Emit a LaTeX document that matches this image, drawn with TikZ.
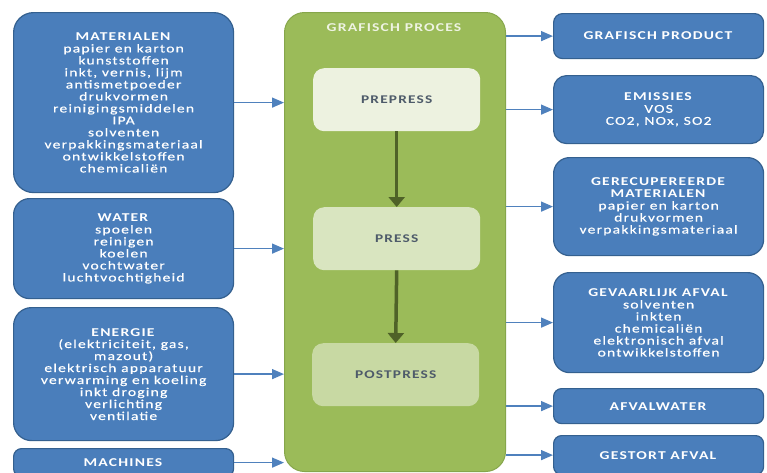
\documentclass[tikz,border=0pt]{standalone}
\usepackage{fontspec}
\setmainfont{Carlito}[FakeStretch=1.3, LetterSpace=10, UprightFeatures={FakeBold=0.4}]
\usetikzlibrary{arrows.meta}
\definecolor{bfill}{HTML}{4A7EBB}
\definecolor{bdraw}{HTML}{34608F}
\definecolor{barr}{HTML}{4F81BD}
\definecolor{gfill}{HTML}{9BBB59}
\definecolor{gdraw}{HTML}{86A64B}
\definecolor{pre}{HTML}{EDF2E0}
\definecolor{prs}{HTML}{D9E5C0}
\definecolor{post}{HTML}{C8D9A3}
\definecolor{itext}{HTML}{4E5B6A}
\definecolor{ttext}{HTML}{EEF3E2}
\definecolor{darr}{HTML}{4F6228}
\tikzset{
  bluebox/.style={draw=bdraw, line width=1.2pt, fill=bfill, text=white, align=center,
    anchor=north west, inner sep=0pt, rounded corners=#1,
    font=\fontsize{12}{12}\selectfont},
  bluebox/.default=15pt,
  stagebox/.style={fill=#1, text=itext, anchor=north west, inner sep=0pt,
    rounded corners=11pt, minimum width=167pt, minimum height=63pt,
    font=\fontsize{11.8}{12}\selectfont\bfseries},
  barrow/.style={draw=barr, line width=1.4pt, -{Triangle[length=12pt,width=10pt]}},
  garrow/.style={draw=darr, line width=3.5pt, -{Triangle[length=10pt,width=16pt]}},
}
\begin{document}
\begin{tikzpicture}[x=1pt,y=-1pt]
\clip (0,0) rectangle (767,472);
\fill[white] (0,0) rectangle (767,472);
% central process
\node[draw=gdraw, line width=1pt, fill=gfill, rounded corners=20pt, anchor=north west,
  minimum width=221pt, minimum height=459pt, inner sep=0pt] (proc) at (284,12) {};
\node[text=ttext, font=\fontsize{12}{12}\selectfont\bfseries] (ptitle) at (394,28) {GRAFISCH PROCES};
\node[stagebox=pre] (prepress) at (313,68) {PREPRESS};
\node[stagebox=prs] (press) at (313,207) {PRESS};
\node[stagebox=post] (postpress) at (312,343) {POSTPRESS};
\draw[garrow] (prepress.south) -- (press.north);
\draw[garrow] (press.south) -- (postpress.north);
% inputs
\node[bluebox=20pt, minimum width=220pt, minimum height=180pt] (mat) at (13,12)
 {\textbf{MATERIALEN}\\papier en karton\\kunststoffen\\inkt, vernis, lijm\\antismetpoeder\\drukvormen\\reinigingsmiddelen\\IPA\\solventen\\verpakkingsmateriaal\\ontwikkelstoffen\\chemicaliën};
\node[bluebox=16pt, minimum width=220pt, minimum height=100pt] (water) at (13,198)
 {\textbf{WATER}\\spoelen\\reinigen\\koelen\\vochtwater\\luchtvochtigheid};
\node[bluebox=18pt, minimum width=220pt, minimum height=133pt] (energie) at (13,307)
 {\textbf{ENERGIE}\\(elektriciteit, gas,\\mazout)\\elektrisch apparatuur\\verwarming en koeling\\inkt droging\\verlichting\\ventilatie};
\node[bluebox=8pt, minimum width=220pt, minimum height=28pt] (mach) at (13,448)
 {\textbf{MACHINES}};
\draw[barrow] (mat.east) -- (mat.east -| proc.west);
\draw[barrow] (water.east) -- (water.east -| proc.west);
\draw[barrow] (energie.east) -- (energie.east -| proc.west);
\draw[barrow] (mach.east) -- (mach.east -| proc.west);
% outputs
\node[bluebox=9pt, minimum width=210pt, minimum height=45pt] (prod) at (553,13)
 {\textbf{GRAFISCH PRODUCT}};
\node[bluebox=13pt, minimum width=210pt, minimum height=68pt] (emis) at (553,75)
 {\textbf{EMISSIES}\\VOS\\CO2, NOx, SO2};
\node[bluebox=16pt, minimum width=210pt, minimum height=98pt] (recup) at (553,157)
 {\textbf{GERECUPEREERDE}\\\textbf{MATERIALEN}\\papier en karton\\drukvormen\\verpakkingsmateriaal};
\node[bluebox=16pt, minimum width=210pt, minimum height=100pt] (gev) at (553,272)
 {\textbf{GEVAARLIJK AFVAL}\\solventen\\inkten\\chemicaliën\\elektronisch afval\\ontwikkelstoffen};
\node[bluebox=8pt, minimum width=210pt, minimum height=35pt] (afw) at (553,388)
 {\textbf{AFVALWATER}};
\node[bluebox=8pt, minimum width=210pt, minimum height=39pt] (gest) at (553,435)
 {\textbf{GESTORT AFVAL}};
\draw[barrow] (prod.west -| proc.east) -- (prod.west);
\draw[barrow] (emis.west -| proc.east) -- (emis.west);
\draw[barrow] (recup.west -| proc.east) -- (recup.west);
\draw[barrow] (gev.west -| proc.east) -- (gev.west);
\draw[barrow] (afw.west -| proc.east) -- (afw.west);
\draw[barrow] (gest.west -| proc.east) -- (gest.west);
\end{tikzpicture}
\end{document}
